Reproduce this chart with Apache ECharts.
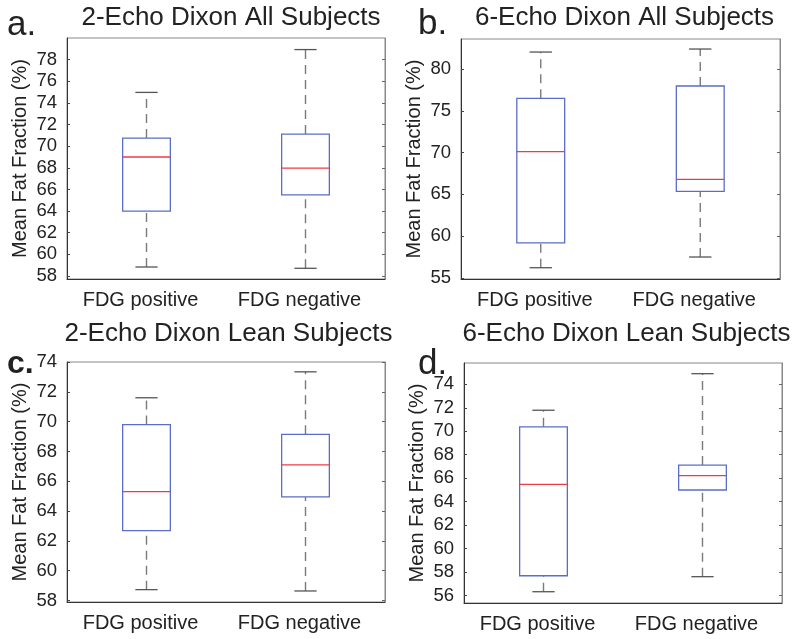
<!DOCTYPE html>
<html>
<head>
<meta charset="utf-8">
<script src="https://cdn.jsdelivr.net/npm/echarts@6/dist/echarts.min.js"></script>
<style>html,body{margin:0;padding:0;background:#fff}#c{width:800px;height:639px}</style>
</head>
<body>
<div id="c"></div>
<script>
// ---- data ----
const categories = ['FDG positive', 'FDG negative'];
// each row: [min, Q1, median, Q3, max]
const allTwoEcho = [[58.83, 64.0, 69.0, 70.75, 74.97], [58.71, 65.5, 67.97, 71.12, 78.93]];
const allSixEcho = [[56.23, 59.19, 70.11, 76.49, 82.03], [57.51, 65.36, 66.8, 77.97, 82.39]];
const leanTwoEcho = [[58.73, 62.69, 65.31, 69.8, 71.6], [58.64, 64.95, 67.1, 69.15, 73.34]];
const leanSixEcho = [[56.34, 57.7, 65.48, 70.38, 71.79], [57.62, 65.0, 66.22, 67.12, 74.9]];
const titles = ['2-Echo Dixon All Subjects', '6-Echo Dixon All Subjects', '2-Echo Dixon Lean Subjects', '6-Echo Dixon Lean Subjects'];
const panelLetters = ['a.', 'b.', 'c.', 'd.'];
const ticksA = [58, 60, 62, 64, 66, 68, 70, 72, 74, 76, 78];
const ticksB = [55, 60, 65, 70, 75, 80];
const ticksC = [58, 60, 62, 64, 66, 68, 70, 72, 74];
const ticksD = [56, 58, 60, 62, 64, 66, 68, 70, 72, 74];
const yName = 'Mean Fat Fraction (%)';

// ---- layout ----
const FONT = "'Liberation Sans', Arial, Helvetica, sans-serif";
const grids = [
  {left: 67, top: 38, width: 318, height: 241},
  {left: 461, top: 39, width: 319, height: 240},
  {left: 67, top: 362, width: 318, height: 240},
  {left: 464, top: 363, width: 318, height: 240}
];
const yRanges = [[57.72, 80.0], [54.88, 83.59], [57.9, 74.0], [55.38, 75.81]];
const tickSets = [ticksA, ticksB, ticksC, ticksD];
const datasets = [allTwoEcho, allSixEcho, leanTwoEcho, leanSixEcho];

const xAxis = [], yAxis = [], series = [];
grids.forEach((g, i) => {
  xAxis.push({
    type: 'category', gridIndex: i, data: categories,
    axisLine: {lineStyle: {color: '#333', width: 1}},
    axisTick: {show: false},
    axisLabel: {color: '#222', fontSize: 20, fontFamily: FONT, margin: 11, interval: 0, padding: [0, 12, 0, 0]},
    splitLine: {show: false}
  });
  yAxis.push({
    type: 'value', gridIndex: i, min: yRanges[i][0], max: yRanges[i][1],
    name: yName, nameLocation: 'middle', nameGap: 37,
    nameTextStyle: {color: '#222', fontSize: 20, fontFamily: FONT},
    axisLine: {show: true, lineStyle: {color: '#333', width: 1}},
    axisTick: {show: true, inside: true, length: 3, customValues: tickSets[i], lineStyle: {color: '#444'}},
    axisLabel: {color: '#222', fontSize: 18.5, fontFamily: FONT, margin: 10, customValues: tickSets[i]},
    splitLine: {show: false}
  });
  yAxis.push({
    type: 'value', gridIndex: i, position: 'right', min: yRanges[i][0], max: yRanges[i][1],
    axisLine: {show: true, lineStyle: {color: '#888', width: 1}},
    axisTick: {show: true, inside: true, length: 3, customValues: tickSets[i], lineStyle: {color: '#666'}},
    axisLabel: {show: false},
    splitLine: {show: false}
  });
  series.push({
    type: 'custom', xAxisIndex: i, yAxisIndex: 2 * i,
    data: datasets[i].map((r, k) => [k].concat(r)),
    renderItem: function (params, api) {
      const x = api.value(0);
      const pMin = api.coord([x, api.value(1)]);
      const pQ1 = api.coord([x, api.value(2)]);
      const pMed = api.coord([x, api.value(3)]);
      const pQ3 = api.coord([x, api.value(4)]);
      const pMax = api.coord([x, api.value(5)]);
      const band = api.size([1, 0])[0];
      const bw = band * 0.3, cw = band * 0.14;
      const cx = pMed[0];
      const wh = {stroke: '#7a7a7a', lineWidth: 1.4, lineDash: [9, 6]};
      return {type: 'group', children: [
        {type: 'line', shape: {x1: cx, y1: pQ3[1], x2: cx, y2: pMax[1]}, style: wh},
        {type: 'line', shape: {x1: cx, y1: pMin[1], x2: cx, y2: pQ1[1]}, style: wh},
        {type: 'line', shape: {x1: cx - cw / 2, y1: pMax[1], x2: cx + cw / 2, y2: pMax[1]}, style: {stroke: '#555', lineWidth: 1.3}},
        {type: 'line', shape: {x1: cx - cw / 2, y1: pMin[1], x2: cx + cw / 2, y2: pMin[1]}, style: {stroke: '#555', lineWidth: 1.3}},
        {type: 'rect', shape: {x: cx - bw / 2, y: pQ3[1], width: bw, height: pQ1[1] - pQ3[1]}, style: {fill: 'none', stroke: '#5a6ec6', lineWidth: 1.3}},
        {type: 'line', shape: {x1: cx - bw / 2, y1: pMed[1], x2: cx + bw / 2, y2: pMed[1]}, style: {stroke: '#f03a44', lineWidth: 1.3}}
      ]};
    }
  });
});

const titleCenters = [[231, 18], [624.5, 18], [228.5, 334], [626.5, 334]];
const letterPos = [[7, 25], [418, 24], [7, 364], [418, 364]];
const graphic = [];
titles.forEach((t, i) => {
  graphic.push({type: 'text', x: titleCenters[i][0], y: titleCenters[i][1],
    style: {text: t, font: '26px ' + FONT, fill: '#222', align: 'center', verticalAlign: 'middle'}});
});
panelLetters.forEach((t, i) => {
  graphic.push({type: 'text', x: letterPos[i][0], y: letterPos[i][1],
    style: {text: t, font: (i === 2 ? 'bold 32px ' : '35px ') + FONT, fill: '#222', align: 'left', verticalAlign: 'middle'}});
});

const chart = echarts.init(document.getElementById('c'), null, {renderer: 'canvas'});
chart.setOption({
  animation: false,
  backgroundColor: '#fff',
  grid: grids.map(g => Object.assign({show: true, borderColor: '#888', borderWidth: 1, backgroundColor: 'transparent'}, g)),
  xAxis: xAxis,
  yAxis: yAxis,
  series: series,
  graphic: graphic
});
</script>
</body>
</html>
